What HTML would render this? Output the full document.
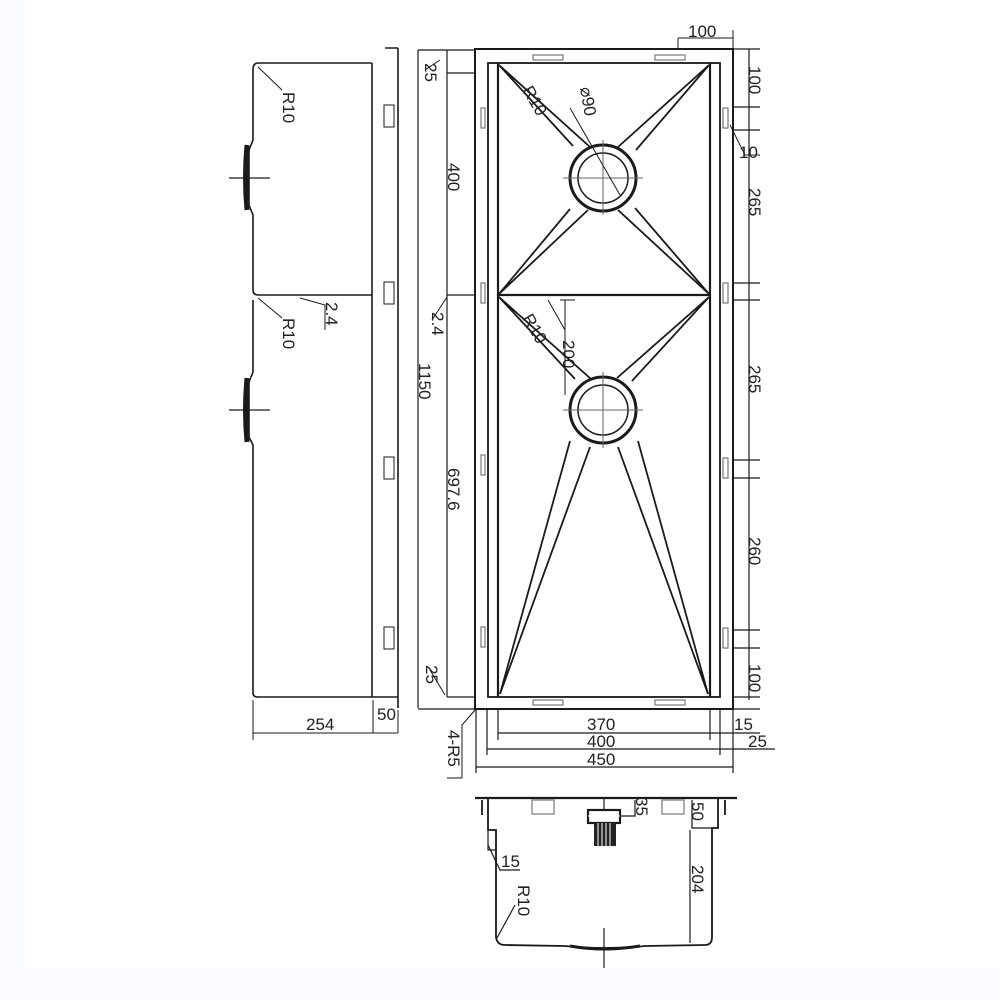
<!DOCTYPE html>
<html><head><meta charset="utf-8"><style>
html,body{margin:0;padding:0;background:#fafcff;}
svg{display:block}
text{font-family:"Liberation Sans",sans-serif;font-size:17px;fill:#222;}
</style></head><body>
<svg width="1000" height="1000" viewBox="0 0 1000 1000" xmlns="http://www.w3.org/2000/svg">
<rect x="25" y="0" width="975" height="968" fill="#fff"/>
<g stroke="#1a1a1a" fill="none" stroke-width="1.6">
<!-- side view -->
<path d="M258 63 H372 M253 70 Q253 63 258 63 M253 70 V140 L249 150 V205 L253 215 V290 Q253 295 258 295 H372 M253 300 V372 L249 382 V437 L253 445 V693 Q253 697 258 697 H372"/>
<path d="M247 145 Q244 178 247 210" stroke-width="5"/>
<path d="M247 378 Q244 410 247 442" stroke-width="5"/>
<path d="M229 178 H270 M248 160 V197 M229 410 H270 M248 392 V428" stroke-width="1.2"/>
<path d="M372 63 V697 M398 48 V708 M372 697 H398 M385 48 H398"/>
<path d="M373 700 V733 M398 710 V733 M253 700 V740 M253 733 H398" stroke-width="1"/>
<g stroke-width="1"><rect x="384" y="105" width="10" height="22"/><rect x="384" y="282" width="10" height="22"/><rect x="384" y="457" width="10" height="22"/><rect x="384" y="627" width="10" height="22"/></g>
<path d="M258 67 L282 90 M258 298 L282 318 M300 298 L325 305 V330" stroke-width="1"/>
<!-- left dims -->
<path d="M418 50 V708 M447 50 V697 M418 50 H476 M447 73 H476 M447 295 H476 M447 697 H476 M418 709 H476" stroke-width="1.2"/>
<path d="M425 70 L440 60 M432 320 L447 297 M430 670 L445 695" stroke-width="1"/>
<!-- main plan -->
<rect x="475" y="49" width="258" height="660" stroke-width="2"/>
<rect x="488" y="63" width="232" height="634" stroke-width="1.8"/>
<path d="M498 63 V697 M710 63 V697 M498 295 H710" stroke-width="2.2"/>
<g stroke-width="1.2" stroke="#777"><rect x="533" y="55" width="30" height="5"/><rect x="655" y="55" width="30" height="5"/><rect x="533" y="700" width="30" height="5"/><rect x="655" y="700" width="30" height="5"/>
<rect x="481" y="108" width="4" height="20"/><rect x="481" y="283" width="4" height="20"/><rect x="481" y="455" width="4" height="20"/><rect x="481" y="627" width="4" height="20"/>
<rect x="723" y="108" width="5" height="20"/><rect x="723" y="283" width="5" height="20"/><rect x="723" y="458" width="5" height="20"/><rect x="723" y="628" width="5" height="20"/></g>
<circle cx="603" cy="178" r="33" stroke-width="3"/><circle cx="603" cy="178" r="25" stroke-width="1.5"/>
<circle cx="603" cy="410" r="33" stroke-width="3"/><circle cx="603" cy="410" r="25" stroke-width="1.5"/>
<path d="M563 178 H643 M603 140 V215 M563 410 H643 M603 372 V448" stroke-width="1" stroke="#666"/>
<path d="M499 65 L573 146 M499 65 L590 147 M709 65 L618 147 M709 65 L636 150 M499 294 L570 209 M499 294 L588 210 M709 294 L635 208 M709 294 L618 210
M499 297 L575 379 M499 297 L591 379 M709 297 L617 378 M709 297 L632 381 M500 694 L570 441 M500 694 L590 447 M708 694 L618 447 M708 694 L638 441" stroke-width="1.8"/>
<path d="M570 108 L620 195 M548 300 L565 330 M565 300 V395 M560 300 H575" stroke-width="1"/>
<!-- right dims -->
<path d="M749 49 V700 M733 49 H760 M733 107 H760 M733 130 H760 M733 283 H760 M733 300 H760 M733 460 H760 M733 478 H760 M733 630 H760 M733 648 H760 M733 697 H760 M733 709 H760" stroke-width="1.2"/>
<path d="M730 125 L745 155 H760 M678 38 H733 M678 38 V50 M733 30 V50" stroke-width="1"/>
<!-- bottom width dims -->
<path d="M498 709 V740 M710 709 V740 M487 709 V755 M720 709 V755 M476 709 V773 M733 709 V773 M498 733 H710 M487 749 H720 M476 767 H733 M710 733 H760 M720 749 H775 M733 733 V773" stroke-width="1.2"/>
<path d="M476 709 L462 725 V778 M447 778 H462" stroke-width="1"/>
<!-- front view -->
<path d="M475 798 H737" stroke-width="2.2"/>
<path d="M482 800 V815 M725 800 V815 M488 798 V830 H496 V937 Q497 945 505 945 L565 946 Q604 950 645 946 L705 945 Q712 945 712 937 V828 H718 V798" stroke-width="1.8"/>
<path d="M692 800 V828 H712 M488 830 V850 L496 850" stroke-width="1.2"/>
<path d="M570 946 Q604 952 640 946" stroke-width="3"/>
<g stroke-width="1.2" stroke="#777"><rect x="532" y="800" width="22" height="14"/><rect x="662" y="800" width="22" height="14"/></g>
<rect x="588" y="810" width="32" height="13" stroke-width="2.2"/>
<path d="M604 798 V810 M620 816 H635 V800 M604 928 V968 M690 830 V943 M488 845 L500 870 H520 M497 938 L515 905" stroke-width="1.2"/>
</g>
<g fill="#222"><rect x="594" y="823" width="22" height="23"/></g>
<path d="M598 823 V846 M602 823 V846 M606 823 V846 M610 823 V846 M588 816 H620" stroke="#fff" stroke-width="1"/>
<g>
<text transform="translate(283,92) rotate(90)">R10</text>
<text transform="translate(283,318) rotate(90)">R10</text>
<text transform="translate(326,302) rotate(90)">2.4</text>
<text transform="translate(425,63) rotate(90)">25</text>
<text transform="translate(448,163) rotate(90)">400</text>
<text transform="translate(432,312) rotate(90)">2.4</text>
<text transform="translate(419,363) rotate(90)">1150</text>
<text transform="translate(448,468) rotate(90)">697.6</text>
<text transform="translate(426,665) rotate(90)">25</text>
<text transform="translate(522,90) rotate(60)">R10</text>
<text transform="translate(580,88) rotate(80)">⌀90</text>
<text transform="translate(522,318) rotate(60)">R10</text>
<text transform="translate(563,340) rotate(90)">200</text>
<text transform="translate(749,66) rotate(90)">100</text>
<text transform="translate(749,188) rotate(90)">265</text>
<text transform="translate(749,365) rotate(90)">265</text>
<text transform="translate(749,537) rotate(90)">260</text>
<text transform="translate(749,664) rotate(90)">100</text>
<text transform="translate(448,730) rotate(90)">4-R5</text>
<text transform="translate(636,797) rotate(90)">35</text>
<text transform="translate(692,802) rotate(90)">50</text>
<text transform="translate(692,865) rotate(90)">204</text>
<text transform="translate(518,885) rotate(90)">R10</text>
</g>
<text x="688" y="37">100</text>
<text x="739" y="158">10</text>
<text x="306" y="730">254</text>
<text x="377" y="720">50</text>
<text x="587" y="730">370</text>
<text x="587" y="747">400</text>
<text x="587" y="765">450</text>
<text x="734" y="730">15</text>
<text x="748" y="747">25</text>
<text x="501" y="867">15</text>
</svg>
</body></html>
